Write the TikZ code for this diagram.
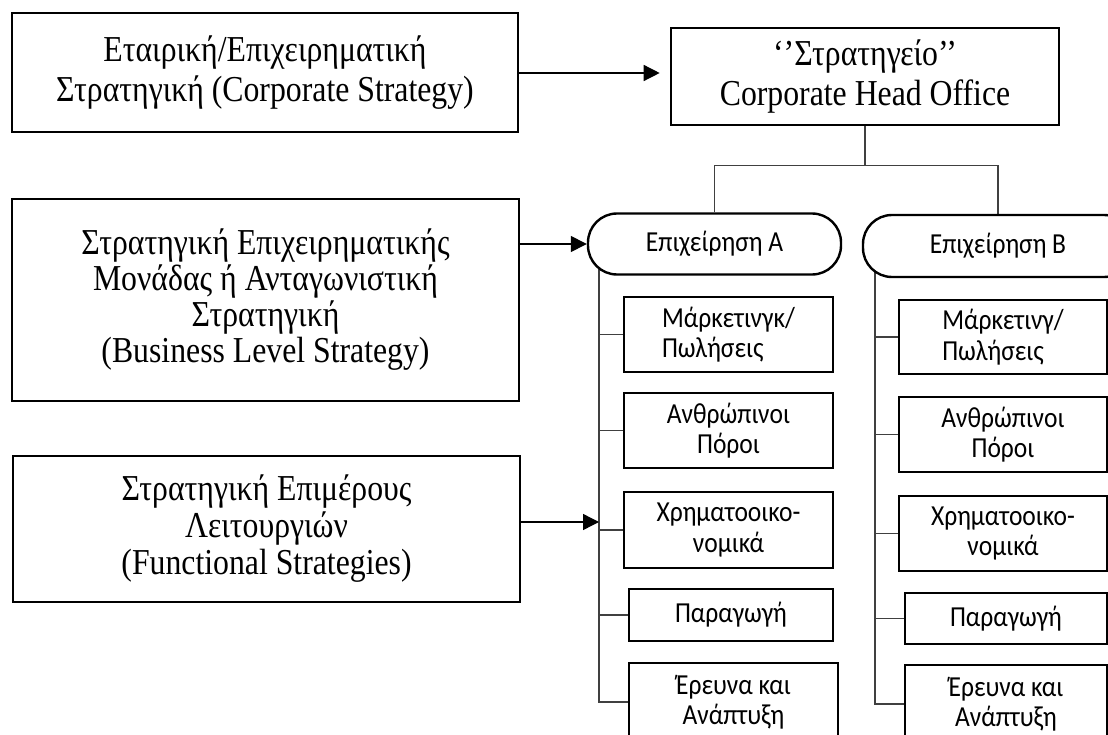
\documentclass[tikz,border=0pt]{standalone}
\usepackage{fontspec}
\setmainfont[FakeStretch=0.87]{Liberation Serif}
\newfontfamily\calib[FakeStretch=0.88]{Carlito}
\usetikzlibrary{arrows.meta,calc,backgrounds}
\begin{document}
\begin{tikzpicture}[x=1pt,y=-1pt,
  lvl/.style={draw,line width=2.6pt,inner sep=0pt,align=center,
    font=\fontsize{36.5}{40}\selectfont},
  unit/.style={draw,line width=2.4pt,rounded corners=29pt,fill=white,
    inner sep=0pt,font=\calib\fontsize{29}{31}\selectfont},
  dept/.style={draw,line width=2.6pt,fill=white,inner sep=0pt,align=center,
    font=\calib\fontsize{29}{30.5}\selectfont},
  link/.style={line width=1.4pt,draw=black!75},
  arr/.style={line width=1.4pt,-{Triangle[length=16pt,width=16pt]}}]
\useasboundingbox (0,0) rectangle (1108,735);
\clip (0,0) rectangle (1108,735);

% strategy levels (left column)
\node[lvl,minimum width=506pt,minimum height=119pt] (corp) at (265,72.5)
  {Εταιρική/Επιχειρηματική\\Στρατηγική (Corporate Strategy)};
\node[lvl,minimum width=507pt,minimum height=202pt,
  font=\fontsize{36.5}{36}\selectfont] (bus) at (265.5,300)
  {Στρατηγική Επιχειρηματικής\\Μονάδας ή Ανταγωνιστική\\Στρατηγική\\(Business Level Strategy)};
\node[lvl,minimum width=507pt,minimum height=146pt,
  font=\fontsize{36.5}{37}\selectfont] (fun) at (266.5,529)
  {Στρατηγική Επιμέρους\\Λειτουργιών\\(Functional Strategies)};

% head office
\node[lvl,minimum width=388pt,minimum height=97pt] (hq) at (865,76.5)
  {‘’Στρατηγείο’’\\Corporate Head Office};

% business units
\node[unit,minimum width=253pt,minimum height=61pt] (fa) at (714.5,244)
  {Επιχείρηση Α};
\node[unit,minimum width=270pt,minimum height=62pt] (fb) at (998,246)
  {Επιχείρηση Β};

% departments of unit A
\node[dept,minimum width=209pt,minimum height=75pt,align=left] (a1) at (728.5,334.5)
  {Μάρκετινγκ/\\Πωλήσεις};
\node[dept,minimum width=209pt,minimum height=75pt] (a2) at (728.5,430.5)
  {Ανθρώπινοι\\Πόροι};
\node[dept,minimum width=209pt,minimum height=76pt] (a3) at (728.5,530)
  {Χρηματοοικο-\\νομικά};
\node[dept,minimum width=204pt,minimum height=52pt] (a4) at (731,615)
  {Παραγωγή};
\node[dept,minimum width=209pt,minimum height=78pt] (a5) at (733.5,702)
  {Έρευνα και\\Ανάπτυξη};

% departments of unit B
\node[dept,minimum width=208pt,minimum height=74pt,align=left] (b1) at (1003,337)
  {Μάρκετινγ/\\Πωλήσεις};
\node[dept,minimum width=208pt,minimum height=75pt] (b2) at (1003,434.5)
  {Ανθρώπινοι\\Πόροι};
\node[dept,minimum width=208pt,minimum height=75pt] (b3) at (1003,533.5)
  {Χρηματοοικο-\\νομικά};
\node[dept,minimum width=202pt,minimum height=51pt] (b4) at (1006,618.5)
  {Παραγωγή};
\node[dept,minimum width=202pt,minimum height=78pt] (b5) at (1006,704)
  {Έρευνα και\\Ανάπτυξη};

% trunk lines start under the unit shapes
\coordinate (ta) at (599,262);
\coordinate (tb) at (875,266);
\coordinate (fj) at (599,522);

\begin{scope}[on background layer]
  \draw[link] (hq.south) -- ++(0,39) -| (fa.north);
  \draw[link] (hq.south) -- ++(0,39) -| (fb.north);
  \foreach \d in {a1,a2,a3,a4,a5} \draw[link] (ta) |- (\d.west);
  \foreach \d in {b1,b2,b3,b4,b5} \draw[link] (tb) |- (\d.west);
\end{scope}

% level arrows
\draw[arr,shorten >=10pt] (corp.east |- 0,73) -- (hq.west |- 0,73);
\draw[arr] (bus.east |- fa.west) -- (fa.west);
\draw[arr] (fun.east |- fj) -- (fj);
\end{tikzpicture}
\end{document}
